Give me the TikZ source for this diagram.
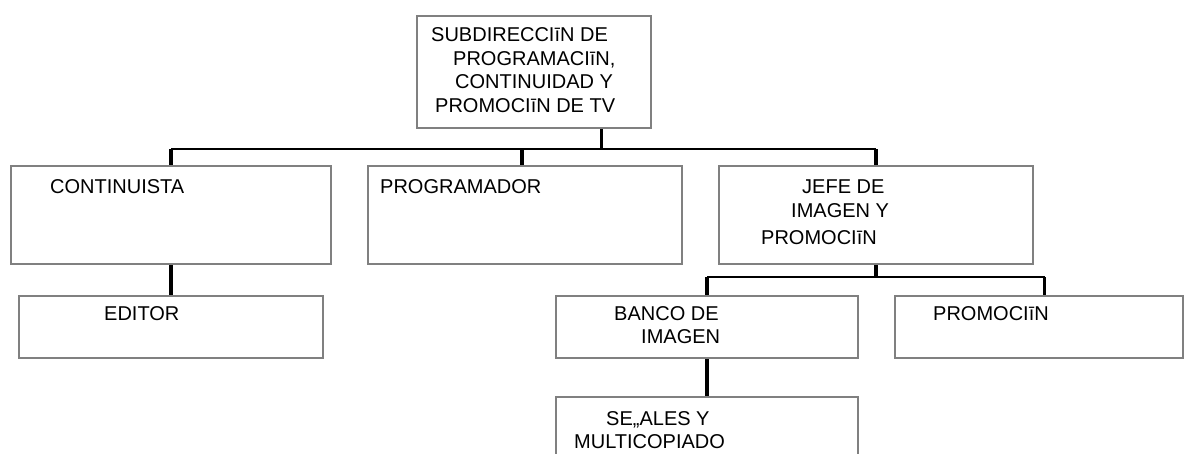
\documentclass[tikz,border=0pt]{standalone}
\usepackage{fontspec}
\setmainfont{Liberation Sans}
\usetikzlibrary{calc}
\tikzset{
  box/.style={draw=black!50, line width=2.8pt, rectangle, inner sep=0pt},
  lbl/.style={anchor=base west, inner sep=0pt, font=\fontsize{20}{24}\selectfont},
  conn/.style={draw=black, line width=3.4pt},
  bus/.style={draw=black, line width=2.6pt},
}
\newcommand{\boxat}[5]{\node[box, minimum width={(#4)-(#2)}, minimum height={(#5)-(#3)}] (#1) at ({((#2)+(#4))/2},{((#3)+(#5))/2}) {};}
\begin{document}
\begin{tikzpicture}[x=1pt,y=-1pt]
\useasboundingbox (0,0) rectangle (1186,454);
\clip (0,0) rectangle (1186,454);
% boxes
\boxat{top}{417}{16}{651}{128}
\boxat{cont}{11}{166}{331}{264}
\boxat{prog}{368}{166}{682}{264}
\boxat{jefe}{719}{166}{1033}{264}
\boxat{edit}{19}{296}{323}{358}
\boxat{banco}{556}{296}{858}{358}
\boxat{promo}{895}{296}{1183}{358}
\boxat{senal}{556}{397}{858}{480}
% labels
\node[lbl] (t1) at (431,42) {SUBDIRECCIīN DE};
\node[lbl] (t2) at (453,66) {PROGRAMACIīN,};
\node[lbl] (t3) at (455,89) {CONTINUIDAD Y};
\node[lbl] (t4) at (435,113) {PROMOCIīN DE TV};
\node[lbl] (c1) at (50,194) {CONTINUISTA};
\node[lbl] (p1) at (380,194) {PROGRAMADOR};
\node[lbl] (j1) at (802,194) {JEFE DE};
\node[lbl] (j2) at (791,218) {IMAGEN Y};
\node[lbl] (j3) at (761,245) {PROMOCIīN};
\node[lbl] (e1) at (104,320) {EDITOR};
\node[lbl] (b1) at (614,320) {BANCO DE};
\node[lbl] (b2) at (641,344) {IMAGEN};
\node[lbl] (r1) at (933,320) {PROMOCIīN};
\node[lbl] (s1) at (606,425) {SE„ALES Y};
\node[lbl] (s2) at (574,448) {MULTICOPIADO};
% connector anchor points
\coordinate (topout) at ($(top.south west)+(186,0)$);
\coordinate (bus1) at (0,149);
\coordinate (bus2) at (0,277);
\coordinate (promoin) at ($(promo.north west)+(151,0)$);
% connectors
\draw[conn] (topout) -- (topout |- bus1);
\draw[bus] (cont.north |- bus1) -- (jefe.north |- bus1);
\draw[conn] (cont.north) -- (cont.north |- bus1);
\draw[conn] ($(prog.north)+(-3,0)$) -- ($(prog.north |- bus1)+(-3,0)$);
\draw[conn] (jefe.north) -- (jefe.north |- bus1);
\draw[conn] (cont.south) -- (edit.north);
\draw[conn] (jefe.south) -- (jefe.south |- bus2);
\draw[bus] (banco.north |- bus2) -- (promoin |- bus2);
\draw[conn] (banco.north) -- (banco.north |- bus2);
\draw[conn] (promoin) -- (promoin |- bus2);
\draw[conn] (banco.south) -- (senal.north);
\end{tikzpicture}
\end{document}
